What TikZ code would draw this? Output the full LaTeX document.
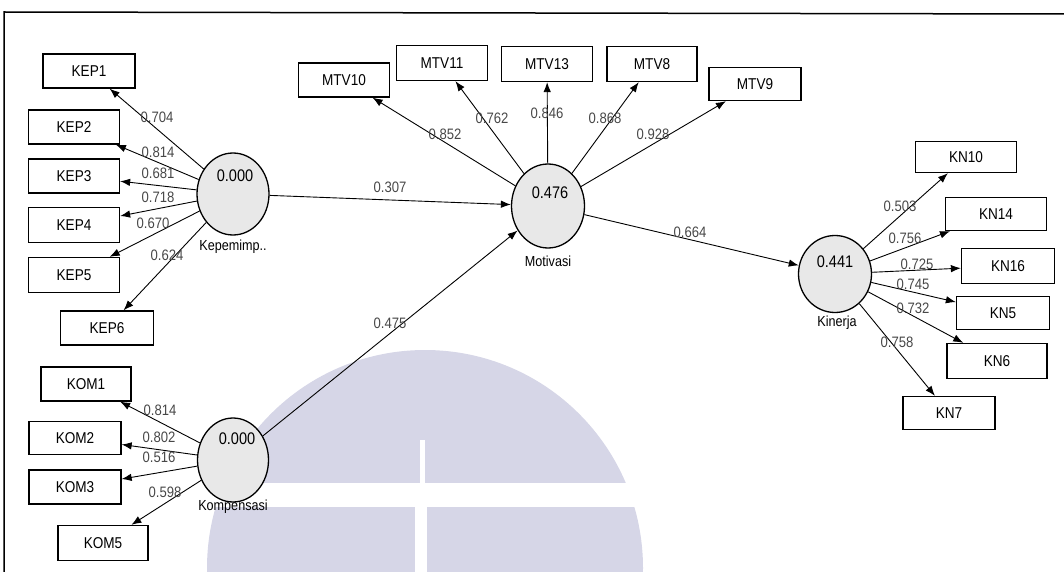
\documentclass[tikz,border=0pt]{standalone}
\usepackage{fontspec}
\usepackage{graphicx}
\setmainfont{Liberation Sans}
\usetikzlibrary{arrows.meta,shapes.geometric}
\definecolor{wm}{RGB}{214,214,231}
\newcommand\vst[1]{\scalebox{0.97}[1.12]{#1}}
\begin{document}
\begin{tikzpicture}[x=1pt,y=-1pt,
  box/.style={draw,line width=1.3pt,minimum width=91pt,minimum height=34pt,inner sep=0pt,font=\fontsize{14}{14}\selectfont},
  lv/.style={draw,line width=1.3pt,ellipse,fill=black!9,inner sep=0pt},
  arr/.style={-{Latex[length=10pt,width=7.5pt]},line width=0.9pt},
  lab/.style={font=\fontsize{13.5}{13.5}\selectfont,text=black!72,inner sep=0pt},
  val/.style={font=\fontsize{15}{15}\selectfont,inner sep=0pt},
  nm/.style={font=\fontsize{13}{13}\selectfont,inner sep=0pt}]
\useasboundingbox (0,0) rectangle (1064,572);
% watermark
\begin{scope}
  \clip (0,0) rectangle (1064,572);
  \fill[wm] (425,568) ellipse [x radius=218, y radius=218];
  \fill[white] (190,483) rectangle (680,507);
  \fill[white] (420,440) rectangle (425,483);
  \fill[white] (415,507) rectangle (427,572);
\end{scope}
% frame
\draw[line width=1.5pt] (4,572) -- (4,12) -- (1064,14);

% latent variables
\node[lv,minimum width=72pt,minimum height=82pt] (kep) at (233,194) {};
\node[lv,minimum width=71pt,minimum height=84pt] (kom) at (233,460) {};
\node[lv,minimum width=73pt,minimum height=84pt] (mot) at (548,206) {};
\node[lv,minimum width=73pt,minimum height=77pt] (kin) at (835,274) {};

\node[val] (vkep) at (235,176) {\vst{0.000}};
\node[val] (vkom) at (237,439) {\vst{0.000}};
\node[val] (vmot) at (550,193) {\vst{0.476}};
\node[val] (vkin) at (835,262) {\vst{0.441}};

\node[nm] (nkep) at (233,247) {\vst{Kepemimp..}};
\node[nm] (nkom) at (233,507) {\vst{Kompensasi}};
\node[nm] (nmot) at (548,261) {\vst{Motivasi}};
\node[nm] (nkin) at (837,323) {\vst{Kinerja}};

% indicators KEP
\node[box,minimum width=92pt] (kep1) at (89,71) {\vst{KEP1}};
\node[box] (kep2) at (74,127) {\vst{KEP2}};
\node[box] (kep3) at (74,176) {\vst{KEP3}};
\node[box,minimum height=35pt] (kep4) at (74,225) {\vst{KEP4}};
\node[box,minimum height=35pt] (kep5) at (74,275) {\vst{KEP5}};
\node[box,minimum width=93pt] (kep6) at (107,328) {\vst{KEP6}};
% indicators KOM
\node[box,minimum width=90pt] (kom1) at (86,384) {\vst{KOM1}};
\node[box,minimum width=92pt,minimum height=33pt] (kom2) at (75,438) {\vst{KOM2}};
\node[box,minimum width=92pt] (kom3) at (75,487) {\vst{KOM3}};
\node[box,minimum width=90pt,minimum height=35pt] (kom5) at (103,543) {\vst{KOM5}};
% indicators MTV
\node[box] (mtv10) at (344,80) {\vst{MTV10}};
\node[box,minimum height=35pt] (mtv11) at (442,63) {\vst{MTV11}};
\node[box,minimum height=35pt] (mtv13) at (547,64) {\vst{MTV13}};
\node[box,minimum width=90pt,minimum height=35pt] (mtv8) at (652,64) {\vst{MTV8}};
\node[box,minimum width=92pt,minimum height=33pt] (mtv9) at (755,84) {\vst{MTV9}};
% indicators KN
\node[box,minimum width=101pt,minimum height=31pt] (kn10) at (966,157) {\vst{KN10}};
\node[box,minimum width=101pt,minimum height=33pt] (kn14) at (996,214) {\vst{KN14}};
\node[box,minimum width=93pt,minimum height=35pt] (kn16) at (1008,266) {\vst{KN16}};
\node[box,minimum width=93pt,minimum height=33pt] (kn5) at (1003,313) {\vst{KN5}};
\node[box,minimum width=100pt,minimum height=35pt] (kn6) at (997,361) {\vst{KN6}};
\node[box,minimum width=92pt,minimum height=33pt] (kn7) at (949,413) {\vst{KN7}};

% connectors
\foreach \t in {kep1,kep2,kep3,kep4,kep5,kep6} \draw[arr] (kep) -- (\t);
\foreach \t in {kom1,kom2,kom3,kom5} \draw[arr] (kom) -- (\t);
\foreach \t in {mtv10,mtv11,mtv13,mtv8,mtv9} \draw[arr] (mot) -- (\t);
\foreach \t in {kn10,kn14,kn16,kn5,kn6,kn7} \draw[arr] (kin) -- (\t);
\draw[arr] (kep) -- (mot);
\draw[arr] (kom) -- (mot);
\draw[arr] (mot) -- (kin);

% loading labels
\node[lab] (l1) at (157,117) {\vst{0.704}};
\node[lab] (l2) at (158,152) {\vst{0.814}};
\node[lab] (l3) at (158,173) {\vst{0.681}};
\node[lab] (l4) at (158,197) {\vst{0.718}};
\node[lab] (l5) at (153,223) {\vst{0.670}};
\node[lab] (l6) at (167,255) {\vst{0.624}};
\node[lab] (l7) at (160,410) {\vst{0.814}};
\node[lab] (l8) at (159,437) {\vst{0.802}};
\node[lab] (l9) at (159,457) {\vst{0.516}};
\node[lab] (l10) at (165,492) {\vst{0.598}};
\node[lab] (l11) at (445,134) {\vst{0.852}};
\node[lab] (l12) at (492,118) {\vst{0.762}};
\node[lab] (l13) at (547,113) {\vst{0.846}};
\node[lab] (l14) at (605,118) {\vst{0.868}};
\node[lab] (l15) at (653,134) {\vst{0.928}};
\node[lab] (l16) at (900,206) {\vst{0.503}};
\node[lab] (l17) at (905,238) {\vst{0.756}};
\node[lab] (l18) at (917,264) {\vst{0.725}};
\node[lab] (l19) at (913,284) {\vst{0.745}};
\node[lab] (l20) at (913,308) {\vst{0.732}};
\node[lab] (l21) at (897,342) {\vst{0.758}};
\node[lab] (p1) at (390,187) {\vst{0.307}};
\node[lab] (p2) at (390,323) {\vst{0.475}};
\node[lab] (p3) at (690,232) {\vst{0.664}};
\end{tikzpicture}
\end{document}
